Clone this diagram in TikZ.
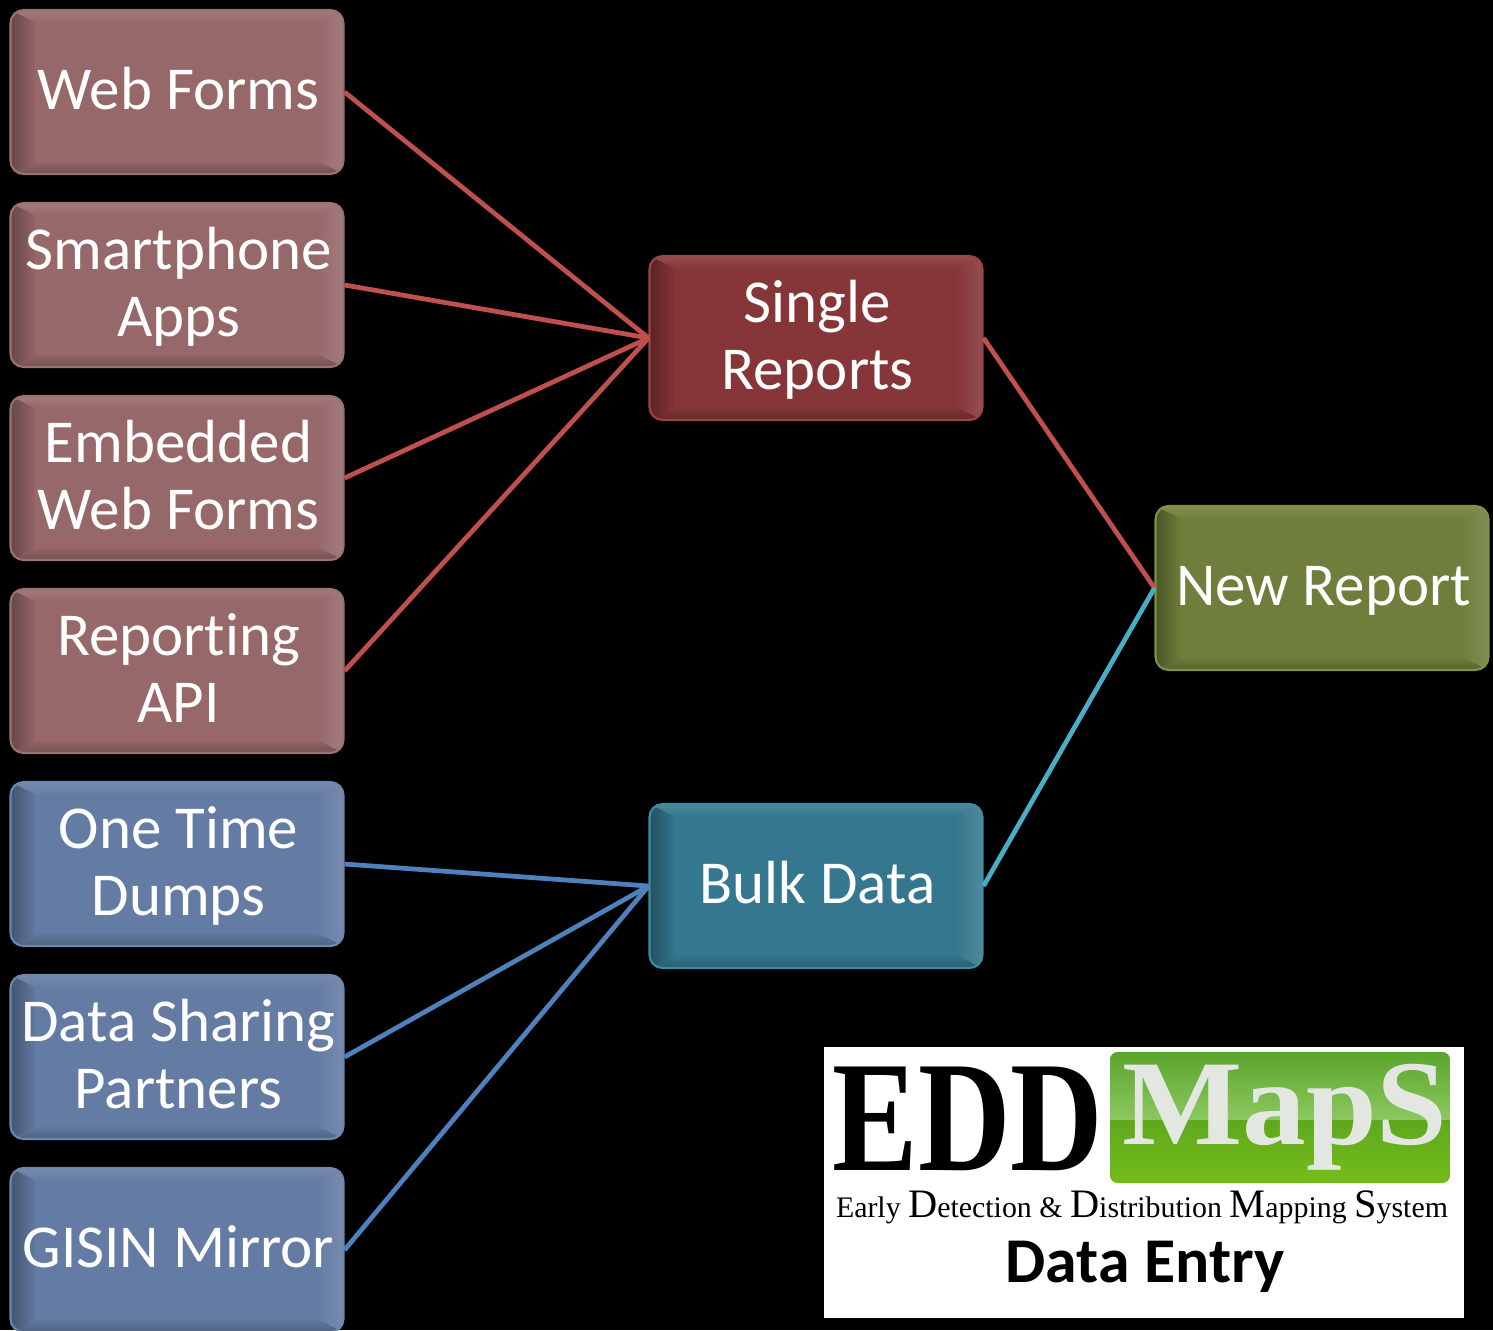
\documentclass[tikz,border=0pt]{standalone}
\usepackage{fontspec}
\setmainfont{Carlito}[Ligatures=NoCommon]
\newfontfamily\logofont{Liberation Serif}
\newcommand{\linestrut}{\hspace*{1.7pt}\rule[-9.1pt]{0pt}{38.6pt}}
\definecolor{linered}{HTML}{C0504D}
\definecolor{lineblue}{HTML}{4F81BD}
\definecolor{lineteal}{HTML}{4BACC6}
\definecolor{pinkface}{HTML}{96686A}
\definecolor{pinkrim}{HTML}{9A7274}
\definecolor{blueface}{HTML}{647BA3}
\definecolor{bluerim}{HTML}{6F87AE}
\definecolor{redface}{HTML}{863538}
\definecolor{redrim}{HTML}{9A4444}
\definecolor{tealface}{HTML}{35778F}
\definecolor{tealrim}{HTML}{3F8BA3}
\definecolor{greenface}{HTML}{6F7F3B}
\definecolor{greenrim}{HTML}{7F9146}
\definecolor{logotop}{HTML}{5BA52C}
\definecolor{logomid}{HTML}{8CC85F}
\definecolor{logolow}{HTML}{5FA81E}
\definecolor{logoend}{HTML}{74BD1A}
\definecolor{logotext}{HTML}{E4E6E2}
\begin{document}
\begin{tikzpicture}
				[x=0.02cm, y=-0.02cm,
				bevelbox/.style 2 args = {draw=#2, line width=1.2pt, fill=#1, rounded corners=2.6mm,
				minimum width=6.66cm, minimum height=3.28cm, inner sep=0pt, align=center, text=white,
				font=\fontsize{34.7}{38.6}\selectfont,
				path picture={
					\foreach \w in {4, 8, ..., 24} {
						\fill[black, opacity=0.05, sharp corners] (path picture bounding box.north west) -- ([shift={(\w, 0.5*\w)}]path picture bounding box.north west) -- ([shift={(\w, -0.5*\w)}]path picture bounding box.south west) -- (path picture bounding box.south west) -- cycle;
						\fill[white, opacity=0.022, sharp corners] (path picture bounding box.north east) -- ([shift={(-\w, 0.5*\w)}]path picture bounding box.north east) -- ([shift={(-\w, -0.5*\w)}]path picture bounding box.south east) -- (path picture bounding box.south east) -- cycle;
						\fill[white, opacity=0.025, sharp corners] (path picture bounding box.north west) -- ([shift={(\w, 0.5*\w)}]path picture bounding box.north west) -- ([shift={(-\w, 0.5*\w)}]path picture bounding box.north east) -- (path picture bounding box.north east) -- cycle;
						\fill[black, opacity=0.03, sharp corners] (path picture bounding box.south west) -- ([shift={(\w, -0.5*\w)}]path picture bounding box.south west) -- ([shift={(-\w, -0.5*\w)}]path picture bounding box.south east) -- (path picture bounding box.south east) -- cycle;
					}
				}},
				pinkbox/.style = {bevelbox={pinkface}{pinkrim}},
				bluebox/.style = {bevelbox={blueface}{bluerim}},
				redbox/.style = {bevelbox={redface}{redrim}},
				tealbox/.style = {bevelbox={tealface}{tealrim}},
				greenbox/.style = {bevelbox={greenface}{greenrim}},
				redline/.style = {draw=linered, line width=2.7pt},
				blueline/.style = {draw=lineblue, line width=2.7pt},
				tealline/.style = {draw=lineteal, line width=2.7pt}]
				\useasboundingbox (0, 0) rectangle (1493, 1330);
				\clip (0, 0) rectangle (1493, 1330);
				\fill[black] (0, 0) rectangle (1493, 1330);
				% sources
				\node[pinkbox] (webforms) at (177, 92) {\linestrut Web Forms};
				\node[pinkbox] (smartphone) at (177, 285) {\linestrut Smartphone\\\linestrut Apps};
				\node[pinkbox] (embedded) at (177, 478) {\linestrut Embedded\\\linestrut Web Forms};
				\node[pinkbox] (reporting) at (177, 671) {\linestrut Reporting\\\linestrut API};
				\node[bluebox] (onetime) at (177, 864) {\linestrut One Time\\\linestrut Dumps};
				\node[bluebox] (sharing) at (177, 1057) {\linestrut Data Sharing\\\linestrut Partners};
				\node[bluebox] (gisin) at (177, 1250) {\linestrut GISIN Mirror};
				% middle and right
				\node[redbox] (single) at (816, 338) {\linestrut Single\\\linestrut Reports};
				\node[tealbox] (bulk) at (816, 886) {\linestrut Bulk Data};
				\node[greenbox] (newreport) at (1322, 588) {\linestrut New Report};
				\draw[redline] (webforms.east) -- (single.west);
				\draw[redline] (smartphone.east) -- (single.west);
				\draw[redline] (embedded.east) -- (single.west);
				\draw[redline] (reporting.east) -- (single.west);
				\draw[blueline] (onetime.east) -- (bulk.west);
				\draw[blueline] (sharing.east) -- (bulk.west);
				\draw[blueline] (gisin.east) -- (bulk.west);
				\draw[redline] (single.east) -- (newreport.west);
				\draw[tealline] (bulk.east) -- (newreport.west);
				% logo
				\fill[white] (824, 1047) rectangle (1464, 1318);
				\begin{scope}
					\clip[rounded corners=1.5mm] (1110, 1052) rectangle (1450, 1183);
					\shade[top color=logotop, bottom color=logomid] (1110, 1052) rectangle (1450, 1120);
					\shade[top color=logolow, bottom color=logoend] (1110, 1120) rectangle (1450, 1183);
				\end{scope}
				\node[inner sep=0pt, text=black, xscale=0.81, font=\logofont\bfseries\fontsize{90}{90}\selectfont] (edd) at (968, 1119) {EDD};
				\node[inner sep=0pt, text=logotext, font=\logofont\bfseries\fontsize{69}{69}\selectfont, xscale=1.05] (maps) at (1285, 1117) {MapS};
				\node[inner sep=0pt, text=black, font=\logofont\fontsize{17}{18}\selectfont] (tagline) at (1142, 1207) {Early {\fontsize{23}{18}\selectfont D}etection \& {\fontsize{23}{18}\selectfont D}istribution {\fontsize{23}{18}\selectfont M}apping {\fontsize{23}{18}\selectfont S}ystem};
				\node[inner sep=0pt, text=black, font=\bfseries\fontsize{36.3}{40}\selectfont] (dataentry) at (1145, 1267) {Data Entry};
			\end{tikzpicture}
\end{document}
